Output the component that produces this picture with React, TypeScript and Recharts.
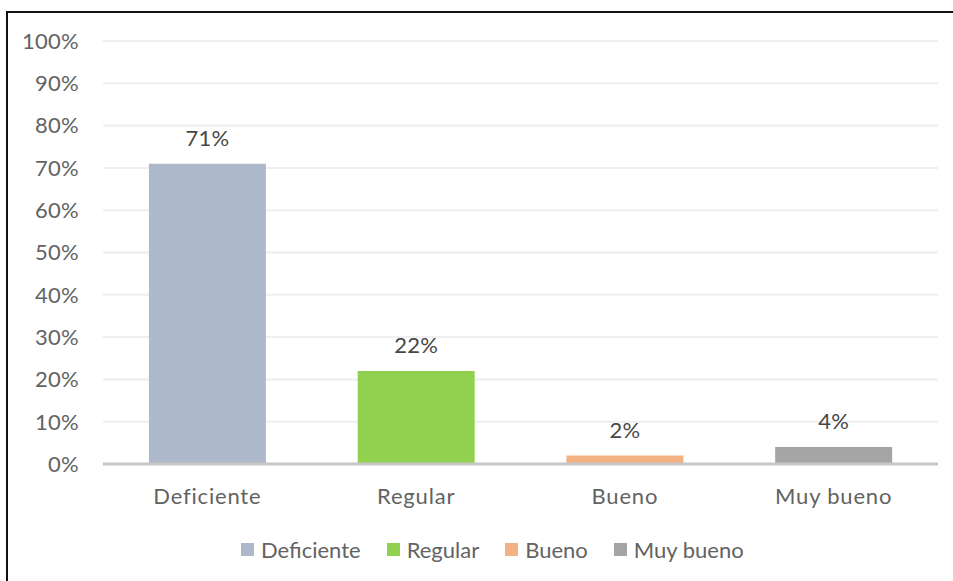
import React from 'react';
import { BarChart, Bar, XAxis, YAxis, CartesianGrid, Legend, Cell, LabelList } from 'recharts';

// Calificación por categoría (porcentaje de respuestas)
const categories = ['Deficiente', 'Regular', 'Bueno', 'Muy bueno'];
const percentages = [71, 22, 2, 4];
const barColors = ['#ADB9CA', '#92D050', '#F4B183', '#A5A5A5'];
const yTicks = [0, 10, 20, 30, 40, 50, 60, 70, 80, 90, 100];

const data = categories.map((name, i) => ({ name, value: percentages[i] }));

const FONT = 'Lato, "Noto Sans", sans-serif';
const TEXT = '#636363';

function CategoryLegend() {
  return (
    <div
      style={{
        display: 'flex',
        alignItems: 'center',
        height: 30,
        paddingLeft: 241,
        fontFamily: FONT,
        fontSize: 22,
        color: TEXT,
      }}
    >
      {categories.map((name, i) => (
        <div key={name} style={{ display: 'flex', alignItems: 'center', marginRight: 26 }}>
          <span style={{ width: 13, height: 13, background: barColors[i], marginRight: 7 }} />
          <span>{name}</span>
        </div>
      ))}
    </div>
  );
}

export default function App() {
  return (
    <div
      style={{
        position: 'absolute',
        top: 0,
        left: 0,
        width: 953,
        height: 581,
        overflow: 'hidden',
        background: '#fff',
      }}
    >
      <BarChart
        width={953}
        height={581}
        data={data}
        margin={{ top: 41, right: 15, left: 0, bottom: 17 }}
        barCategoryGap="22%"
      >
        <CartesianGrid vertical={false} stroke="#EEEEEE" strokeWidth={2} />
        <XAxis
          dataKey="name"
          height={70}
          tickLine={false}
          tickMargin={18}
          axisLine={{ stroke: '#C6C6C6', strokeWidth: 3 }}
          tick={{ fill: TEXT, fontSize: 22, fontFamily: FONT, letterSpacing: 0.8 }}
        />
        <YAxis
          width={103}
          domain={[0, 100]}
          ticks={yTicks}
          tickFormatter={(v: number) => `${v}%`}
          axisLine={false}
          tickLine={false}
          tickMargin={18}
          interval={0}
          tick={{ fill: TEXT, fontSize: 22, fontFamily: FONT, letterSpacing: 0.3 }}
        />
        <Legend
          verticalAlign="bottom"
          height={30}
          wrapperStyle={{ left: 0, width: 953 }}
          content={() => <CategoryLegend />}
        />
        <Bar dataKey="value" isAnimationActive={false}>
          {data.map((d, i) => (
            <Cell key={d.name} fill={barColors[i]} />
          ))}
          <LabelList
            dataKey="value"
            position="top"
            offset={18}
            formatter={(v: number) => `${v}%`}
            style={{ fill: '#474747', fontSize: 22, fontFamily: FONT, letterSpacing: 0.3 }}
          />
        </Bar>
      </BarChart>
      <div
        style={{
          position: 'absolute',
          left: 6,
          top: 11,
          width: 2000,
          height: 2000,
          borderLeft: '2px solid #111',
          borderTop: '2px solid #111',
          pointerEvents: 'none',
        }}
      />
    </div>
  );
}
